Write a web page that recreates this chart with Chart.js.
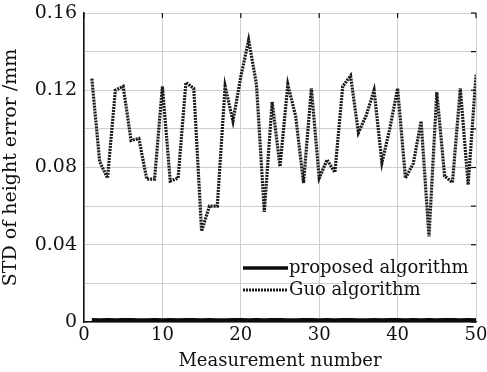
<!DOCTYPE html>
<html>
<head>
<meta charset="utf-8">
<script src="https://cdn.jsdelivr.net/npm/chart.js@4.4.1/dist/chart.umd.min.js"></script>
<style>
  html, body { margin: 0; padding: 0; background: #fff; }
  #wrap { width: 487px; height: 372px; position: relative; }
</style>
</head>
<body>
<div id="wrap"><canvas id="std-chart" width="487" height="372"></canvas></div>
<script>
// measurement index 1..50
const measurements = Array.from({ length: 50 }, (_, i) => i + 1);

const proposedStd = [
  0.0012, 0.0011, 0.0012, 0.0011, 0.0012, 0.0012, 0.0011, 0.0011, 0.0012, 0.0011,
  0.0012, 0.0011, 0.0012, 0.0012, 0.0011, 0.0012, 0.0011, 0.0011, 0.0012, 0.0012,
  0.0011, 0.0012, 0.0011, 0.0012, 0.0012, 0.0011, 0.0011, 0.0012, 0.0012, 0.0011,
  0.0012, 0.0011, 0.0012, 0.0012, 0.0011, 0.0011, 0.0012, 0.0011, 0.0012, 0.0012,
  0.0011, 0.0012, 0.0011, 0.0012, 0.0011, 0.0012, 0.0012, 0.0011, 0.0012, 0.0011
];

const guoStd = [
  0.126, 0.083, 0.0745, 0.120, 0.122, 0.094, 0.095, 0.074, 0.074, 0.122,
  0.073, 0.0745, 0.124, 0.121, 0.047, 0.060, 0.060, 0.122, 0.104, 0.127,
  0.146, 0.123, 0.057, 0.114, 0.0805, 0.123, 0.1065, 0.072, 0.121, 0.0745,
  0.084, 0.0775, 0.122, 0.1275, 0.098, 0.107, 0.120, 0.0825, 0.100, 0.121,
  0.0745, 0.082, 0.104, 0.0443, 0.119, 0.0755, 0.0723, 0.121, 0.071, 0.128
];

const yTickLabels = { '0': '0', '0.04': '0.04', '0.08': '0.08', '0.12': '0.12', '0.16': '0.16' };
const seriesNames = ['proposed algorithm', 'Guo algorithm'];

const serif = '"DejaVu Serif", "Liberation Serif", serif';

// draws the legend inside the plot and the inward minor ticks on top/right
const insideLegend = {
  id: 'insideLegend',
  afterDatasetsDraw(chart) {
    const ctx = chart.ctx;
    const area = chart.chartArea;
    const xs = chart.scales.x, ys = chart.scales.y;
    ctx.save();
    ctx.strokeStyle = '#111';
    ctx.lineWidth = 1.2;
    ctx.setLineDash([]);
    ys.ticks.forEach(t => {
      const py = ys.getPixelForValue(t.value);
      ctx.beginPath(); ctx.moveTo(area.right, py); ctx.lineTo(area.right - 5, py); ctx.stroke();
    });
    xs.ticks.forEach(t => {
      const px = xs.getPixelForValue(t.value);
      ctx.beginPath(); ctx.moveTo(px, area.top); ctx.lineTo(px, area.top + 5); ctx.stroke();
    });

    const x0 = area.left + 159, x1 = area.left + 204;
    const rows = [area.bottom - 54, area.bottom - 32];
    chart.data.datasets.forEach((ds, i) => {
      ctx.beginPath();
      ctx.strokeStyle = ds.borderColor;
      ctx.lineWidth = ds.borderWidth;
      ctx.setLineDash(ds.borderDash || []);
      ctx.moveTo(x0, rows[i]); ctx.lineTo(x1, rows[i]);
      ctx.stroke();
      ctx.setLineDash([]);
      ctx.fillStyle = '#111';
      ctx.font = '18px ' + serif;
      ctx.textBaseline = 'middle';
      ctx.fillText(ds.label, x1 + 1, rows[i]);
    });
    ctx.restore();
  }
};

new Chart(document.getElementById('std-chart').getContext('2d'), {
  type: 'line',
  data: {
    labels: measurements,
    datasets: [
      {
        label: seriesNames[0],
        data: proposedStd,
        borderColor: '#0a0a0a',
        borderWidth: 3.5,
        pointRadius: 0,
        tension: 0
      },
      {
        label: seriesNames[1],
        data: guoStd,
        borderColor: '#1a1a1a',
        borderWidth: 3.2,
        borderDash: [2, 1],
        pointRadius: 0,
        tension: 0
      }
    ]
  },
  options: {
    responsive: false,
    animation: false,
    layout: { padding: { top: 13, right: 11, left: 0, bottom: 0 } },
    plugins: {
      legend: { display: false },
      tooltip: { enabled: false }
    },
    scales: {
      x: {
        type: 'linear',
        min: 0,
        max: 50,
        afterFit(scale) { scale.height = 50; scale.paddingRight = 0; scale.paddingLeft = 0; },
        ticks: {
          stepSize: 10,
          color: '#111',
          padding: 3,
          maxRotation: 0,
          font: { family: serif, size: 18 }
        },
        grid: { color: '#cfcfcf', lineWidth: 1, drawTicks: false },
        border: { color: '#111', width: 1.5 },
        title: {
          display: true,
          text: 'Measurement number',
          color: '#111',
          padding: { top: 0, bottom: 0 },
          font: { family: serif, size: 18 }
        }
      },
      y: {
        min: 0,
        max: 0.16,
        afterFit(scale) { scale.width = 84; scale.paddingTop = 0; scale.paddingBottom = 0; },
        ticks: {
          stepSize: 0.02,
          color: '#111',
          padding: 7,
          font: { family: serif, size: 19 },
          callback(v) {
            const key = String(Math.round(v * 100) / 100);
            return yTickLabels[key] !== undefined ? yTickLabels[key] : '';
          }
        },
        grid: { color: '#cfcfcf', lineWidth: 1, drawTicks: false },
        border: { color: '#111', width: 1.5 },
        title: {
          display: true,
          text: 'STD of height error /mm',
          color: '#111',
          padding: { top: 0, bottom: 4 },
          font: { family: serif, size: 19 }
        }
      }
    }
  },
  plugins: [insideLegend]
});
</script>
</body>
</html>
